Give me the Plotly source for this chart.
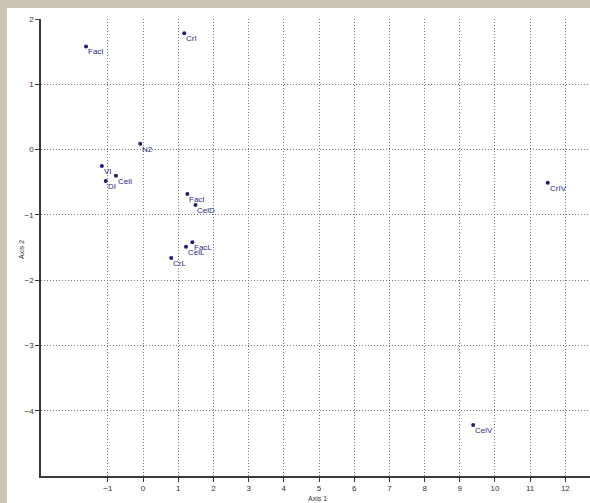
import plotly.graph_objects as go

labels = ["FacI", "CrI", "N2", "VI", "CelI", "DI", "FacI", "CelD", "FacL", "CelL", "CrL", "CrIV", "CelV"]
axis1 = [-1.62, 1.17, -0.08, -1.17, -0.77, -1.06, 1.26, 1.49, 1.40, 1.22, 0.80, 11.50, 9.38]
axis2 = [1.58, 1.78, 0.09, -0.25, -0.40, -0.48, -0.68, -0.85, -1.42, -1.49, -1.66, -0.51, -4.22]

x_ticks = list(range(-1, 13))
y_ticks = list(range(-4, 3))

W, H = 590, 503
ml, mr, mt, mb = 41, 0, 19, 27
pw = W - ml - mr
ph = H - mt - mb
FONT = "Liberation Sans, Arial"
STONE = "#cbc5b6"

fig = go.Figure()
fig.add_trace(go.Scatter(
    x=axis1, y=axis2, mode="markers",
    marker=dict(color="#1c1c7a", size=4),
    cliponaxis=False, hoverinfo="skip", showlegend=False,
))

for xv, yv, lab in zip(axis1, axis2, labels):
    fig.add_annotation(x=xv, y=yv, text=lab, showarrow=False,
                       xanchor="left", yanchor="top", xshift=0, yshift=1,
                       font=dict(family=FONT, size=8, color="#2a2a86"))

# white panel behind the chart
fig.add_shape(type="rect", xref="paper", yref="paper",
              x0=(7 - ml) / pw, x1=1.01, y0=-(mb + 2) / ph, y1=(ph + mt - 8) / ph,
              fillcolor="white", line=dict(width=0), layer="below")

axis_common = dict(
    showgrid=True, gridcolor="#7a7a7a", griddash="1px,2px", gridwidth=1,
    zeroline=False, showline=True, linecolor="#3a3a3a", linewidth=1.5,
    ticks="outside", ticklen=4, tickcolor="#3a3a3a", tickwidth=1,
    tickfont=dict(family=FONT, size=8, color="#333333"),
    automargin=False,
)

fig.update_xaxes(range=[-2.9, 12.7], tickvals=x_ticks, **axis_common)
fig.update_yaxes(range=[-5, 2], tickvals=y_ticks, **axis_common)

fig.add_annotation(xref="paper", yref="paper", x=(317 - ml) / pw, y=-(499 - (mt + ph)) / ph,
                   text="Axis 1", showarrow=False, xanchor="center", yanchor="middle",
                   font=dict(family=FONT, size=7, color="#333333"))
fig.add_annotation(xref="paper", yref="paper", x=(22 - ml) / pw, y=(mt + ph - 250) / ph,
                   text="Axis 2", showarrow=False, xanchor="center", yanchor="middle",
                   textangle=-90, font=dict(family=FONT, size=7, color="#333333"))

fig.update_layout(
    width=W, height=H,
    margin=dict(l=ml, r=mr, t=mt, b=mb),
    paper_bgcolor=STONE, plot_bgcolor="white",
    font=dict(family=FONT),
)

fig.write_html(
    "out.html",
    config={"displayModeBar": False},
    post_script=("document.body.style.margin='0';"
                 "document.body.style.overflow='hidden';"
                 "document.body.style.background='" + STONE + "';"),
)
